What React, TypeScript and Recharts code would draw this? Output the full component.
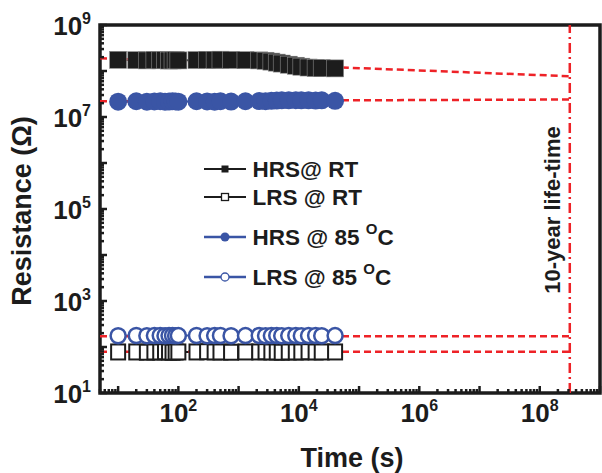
import React from 'react';
import { LineChart, Line, XAxis, YAxis, ReferenceLine, ReferenceArea, Legend } from 'recharts';

// ---- data ----
const times = [10, 20, 30, 40, 50, 60, 70, 80, 90, 100, 200, 300, 400, 500, 750, 1300, 2200, 2800, 3500, 4300, 5200, 6800, 8900, 11000, 14500, 19000, 24000, 40000];
const hrsRT = [1.75e8, 1.72e8, 1.7e8, 1.74e8, 1.71e8, 1.72e8, 1.69e8, 1.7e8, 1.72e8, 1.7e8, 1.73e8, 1.75e8, 1.74e8, 1.76e8, 1.74e8, 1.72e8, 1.7e8, 1.67e8, 1.6e8, 1.52e8, 1.45e8, 1.37e8, 1.3e8, 1.24e8, 1.19e8, 1.16e8, 1.15e8, 1.14e8];
const lrsRT = [78, 78, 77, 78, 78, 79, 78, 77, 78, 78, 78, 79, 78, 78, 77, 78, 78, 79, 78, 78, 77, 78, 78, 78, 79, 78, 78, 78];
const hrs85 = [2.15e7, 2.2e7, 2.15e7, 2.18e7, 2.2e7, 2.15e7, 2.17e7, 2.2e7, 2.18e7, 2.15e7, 2.2e7, 2.18e7, 2.15e7, 2.2e7, 2.17e7, 2.2e7, 2.22e7, 2.2e7, 2.25e7, 2.28e7, 2.3e7, 2.3e7, 2.32e7, 2.3e7, 2.3e7, 2.28e7, 2.3e7, 2.25e7];
const lrs85 = [176, 178, 176, 177, 178, 176, 177, 178, 176, 177, 178, 176, 177, 178, 176, 177, 178, 176, 177, 178, 176, 177, 178, 176, 177, 178, 176, 177];

const seriesNames = ['HRS@ RT', 'LRS @ RT', 'HRS @ 85 ', 'LRS @ 85 '];

const xDomain = [5, 1e9];
const yDomain = [10, 1e9];
const xLabelExps = [2, 4, 6, 8];
const yLabelExps = [1, 3, 5, 7, 9];
const lifetime = 3.15e8;
const fitStartT = 5;
const fitHrsRT = [1.9e8, 7.7e7];
const fitHrs85 = [2.2e7, 2.4e7];
const fitLrs85 = [172, 172];
const fitLrsRT = [79, 79];

const BLACK = '#1c1c1c';
const BLUE = '#3a55a5';
const RED = '#ee2227';
const FONT = '"Liberation Sans", Arial, Helvetica, sans-serif';

const table = times.map((t, i) => ({ t, hrsRT: hrsRT[i], lrsRT: lrsRT[i], hrs85: hrs85[i], lrs85: lrs85[i] }));

function logTicks(lo: number, hi: number) {
  const out: number[] = [];
  for (let e = Math.floor(Math.log10(lo)); e <= Math.ceil(Math.log10(hi)); e++) {
    for (let k = 1; k <= 9; k++) {
      const v = k * Math.pow(10, e);
      if (v >= lo * 0.999 && v <= hi * 1.001) out.push(v);
    }
  }
  return out;
}
const xTicks = logTicks(xDomain[0], xDomain[1]);
const yTicks = logTicks(yDomain[0], yDomain[1]);

function decadeInfo(v: number) {
  const e = Math.floor(Math.log10(v) + 1e-9);
  const m = v / Math.pow(10, e);
  return { e, major: Math.abs(m - 1) < 1e-6 };
}

const PLOT_BOTTOM = 393;
const PLOT_LEFT = 100;

const XTick = (props: any) => {
  const { x, payload } = props;
  const y = PLOT_BOTTOM;
  const { e, major } = decadeInfo(payload.value);
  const len = major ? 7 : 4;
  return (
    <g>
      <line x1={x} x2={x} y1={y} y2={y - len} stroke={BLACK} strokeWidth={2.5} />
      {major && xLabelExps.includes(e) ? (
        <text x={x} y={y + 29} textAnchor="middle" fontFamily={FONT} fontWeight="bold" fontSize={26} fill={BLACK}>
          10<tspan dy={-11} fontSize={16}>{e}</tspan>
        </text>
      ) : null}
    </g>
  );
};

const YTick = (props: any) => {
  const { y, payload } = props;
  const x = PLOT_LEFT;
  const { e, major } = decadeInfo(payload.value);
  const len = major ? 7 : 4;
  return (
    <g>
      <line x1={x} x2={x + len} y1={y} y2={y} stroke={BLACK} strokeWidth={2.5} />
      {major && yLabelExps.includes(e) ? (
        <text x={x - 9} y={y + 10} textAnchor="end" fontFamily={FONT} fontWeight="bold" fontSize={26} fill={BLACK}>
          10<tspan dy={-11} fontSize={16}>{e}</tspan>
        </text>
      ) : null}
    </g>
  );
};

const filledSquare = (p: any) => (
  <rect key={p.key ?? p.index} x={p.cx - 8.5} y={p.cy - 8.5} width={17} height={17} fill={BLACK} stroke="#8a8a8a" strokeWidth={0.6} />
);
const openSquare = (p: any) => (
  <rect key={p.key ?? p.index} x={p.cx - 7} y={p.cy - 7.5} width={14} height={15} fill="#fff" stroke={BLACK} strokeWidth={2} />
);
const filledCircle = (p: any) => (
  <circle key={p.key ?? p.index} cx={p.cx} cy={p.cy} r={9} fill={BLUE} stroke="none" />
);
const openCircle = (p: any) => (
  <circle key={p.key ?? p.index} cx={p.cx} cy={p.cy} r={7.5} fill="#fff" stroke={BLUE} strokeWidth={2.5} />
);

const LifeLabel = (props: any) => {
  const vb = props.viewBox || {};
  const cx = (vb.x ?? 572) - 10;
  const cy = 210;
  return (
    <text x={cx} y={cy} transform={`rotate(-90 ${cx} ${cy})`} textAnchor="middle" fontFamily={FONT} fontWeight="bold" fontSize={22} fill={BLACK}>
      10-year life-time
    </text>
  );
};

const LegendBox = () => {
  const rows = [19, 47, 87, 127];
  const colors = [BLACK, BLACK, BLUE, BLUE];
  const widths = [2, 2, 2.5, 2.5];
  const markers = [
    <rect x={31.5} y={rows[0] - 3.5} width={7} height={7} fill={BLACK} />,
    <rect x={31.5} y={rows[1] - 3.5} width={7} height={7} fill="#fff" stroke={BLACK} strokeWidth={1.3} />,
    <circle cx={35} cy={rows[2]} r={4.5} fill={BLUE} />,
    <circle cx={35} cy={rows[3]} r={4} fill="#fff" stroke={BLUE} strokeWidth={1.3} />,
  ];
  return (
    <svg width={220} height={150} style={{ display: 'block', overflow: 'visible' }}>
      {rows.map((ry, i) => (
        <g key={i}>
          <line x1={14} x2={56} y1={ry} y2={ry} stroke={colors[i]} strokeWidth={widths[i]} />
          {markers[i]}
          <text x={62.5} y={ry + 8} fontFamily={FONT} fontWeight="bold" fontSize={22.5} fill={BLACK}>
            {seriesNames[i]}
            {i >= 2 ? (
              <>
                <tspan dy={-11} fontSize={15}>O</tspan>
                <tspan dy={11}>C</tspan>
              </>
            ) : null}
          </text>
        </g>
      ))}
    </svg>
  );
};

export default function App() {
  return (
    <div style={{ position: 'absolute', left: 0, top: 0, width: 602, height: 473, background: '#fff' }}>
      <LineChart width={602} height={473} data={table} margin={{ top: 25, right: 2, bottom: 30, left: 10 }}>
        <XAxis
          dataKey="t"
          type="number"
          scale="log"
          domain={xDomain}
          allowDataOverflow
          ticks={xTicks}
          interval={0}
          tick={<XTick />}
          tickLine={false}
          axisLine={false}
          tickSize={0}
          tickMargin={0}
          height={50}
        />
        <YAxis
          type="number"
          scale="log"
          domain={yDomain}
          allowDataOverflow
          ticks={yTicks}
          interval={0}
          tick={<YTick />}
          tickLine={false}
          axisLine={false}
          tickSize={0}
          tickMargin={0}
          width={90}
        />
        <Line dataKey="lrsRT" stroke={BLACK} strokeWidth={2} dot={openSquare} isAnimationActive={false} />
        <Line dataKey="lrs85" stroke={BLUE} strokeWidth={2} dot={openCircle} isAnimationActive={false} />
        <Line dataKey="hrsRT" stroke={BLACK} strokeWidth={2} dot={filledSquare} isAnimationActive={false} />
        <Line dataKey="hrs85" stroke={BLUE} strokeWidth={2} dot={filledCircle} isAnimationActive={false} />
        <ReferenceLine segment={[{ x: fitStartT, y: fitHrsRT[0] }, { x: lifetime, y: fitHrsRT[1] }]} stroke={RED} strokeWidth={2.5} strokeDasharray="7 4" />
        <ReferenceLine segment={[{ x: fitStartT, y: fitHrs85[0] }, { x: lifetime, y: fitHrs85[1] }]} stroke={RED} strokeWidth={2.5} strokeDasharray="7 4" />
        <ReferenceLine segment={[{ x: fitStartT, y: fitLrs85[0] }, { x: lifetime, y: fitLrs85[1] }]} stroke={RED} strokeWidth={2.5} strokeDasharray="7 4" />
        <ReferenceLine segment={[{ x: fitStartT, y: fitLrsRT[0] }, { x: lifetime, y: fitLrsRT[1] }]} stroke={RED} strokeWidth={2.5} strokeDasharray="7 4" />
        <ReferenceLine x={lifetime} stroke={RED} strokeWidth={2.5} strokeDasharray="10 4 2 4" label={<LifeLabel />} />
        <ReferenceArea x1={xDomain[0]} x2={xDomain[1]} y1={yDomain[0]} y2={yDomain[1]} fill="none" stroke={BLACK} strokeWidth={3.5} fillOpacity={0} />
        <Legend
          layout="vertical"
          align="center"
          verticalAlign="middle"
          content={() => <LegendBox />}
          wrapperStyle={{ position: 'absolute', left: 190, top: 150, width: 220, height: 150 }}
        />
      </LineChart>
      <svg width={602} height={473} style={{ position: 'absolute', left: 0, top: 0, pointerEvents: 'none' }}>
        <text x={31} y={211} transform="rotate(-90 31 211)" textAnchor="middle" fontFamily={FONT} fontWeight="bold" fontSize={27} fill={BLACK}>
          Resistance (Ω)
        </text>
        <text x={352} y={467} textAnchor="middle" fontFamily={FONT} fontWeight="bold" fontSize={27} fill={BLACK}>
          Time (s)
        </text>
      </svg>
    </div>
  );
}
